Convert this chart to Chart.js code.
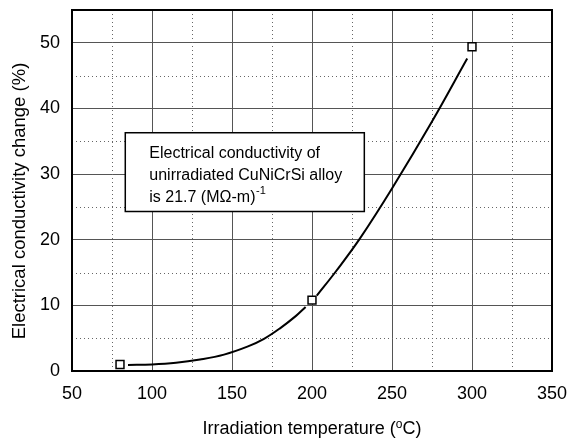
<!DOCTYPE html>
<html>
<head>
<meta charset="utf-8">
<script src="https://cdn.jsdelivr.net/npm/chart.js@4"></script>
<style>
  html, body { margin: 0; padding: 0; background: #fff; }
  #wrap { width: 569px; height: 439px; position: relative; }
</style>
</head>
<body>
<div id="wrap"><canvas id="c" width="569" height="439"></canvas></div>
<script>
// ---- data ----
const measuredTemp = [80, 200, 300];
const measuredChange = [1.0, 10.8, 49.4];

const curveTemp = [85, 100, 115, 130, 145, 160, 170, 180, 190, 196, 199.5, 203, 215, 230, 250, 275, 297];
const curveChange = [0.93, 1.0, 1.25, 1.75, 2.5, 3.75, 4.9, 6.5, 8.4, 9.75, null, 11.5, 15.2, 20.2, 27.8, 38.0, 47.6];

const xMajorTicks = [50, 100, 150, 200, 250, 300, 350];
const xMinorTicks = [75, 125, 175, 225, 275, 325];
const yMajorTicks = [0, 10, 20, 30, 40, 50];
const yMinorTicks = [5, 15, 25, 35, 45];

const xTitle = ['Irradiation temperature (', 'o', 'C)'];
const yTitle = 'Electrical conductivity change (%)';
const noteLines = ['Electrical conductivity of', 'unirradiated CuNiCrSi alloy', 'is 21.7 (M\u03A9-m)'];
const noteSup = '-1';
// annotation box corners in data coordinates
const noteBox = { x1: 83.3, x2: 232.7, y1: 36.3, y2: 24.3 };

const FONT = '"Liberation Sans", Arial, Helvetica, sans-serif';

const decor = {
  id: 'decor',
  beforeDatasetsDraw(chart) {
    const { ctx, chartArea: a, scales: { x, y } } = chart;
    ctx.save();
    ctx.strokeStyle = '#666';
    ctx.lineWidth = 1;
    ctx.setLineDash([1, 3]);
    xMinorTicks.forEach(v => {
      const px = Math.round(x.getPixelForValue(v)) + 0.5;
      ctx.beginPath(); ctx.moveTo(px, a.top); ctx.lineTo(px, a.bottom); ctx.stroke();
    });
    yMinorTicks.forEach(v => {
      const py = Math.round(y.getPixelForValue(v)) + 0.5;
      ctx.beginPath(); ctx.moveTo(a.left, py); ctx.lineTo(a.right, py); ctx.stroke();
    });
    ctx.restore();
  },
  afterDatasetsDraw(chart) {
    const { ctx, chartArea: a, scales: { x, y } } = chart;
    ctx.save();
    // annotation box
    const bx1 = x.getPixelForValue(noteBox.x1), bx2 = x.getPixelForValue(noteBox.x2);
    const by1 = y.getPixelForValue(noteBox.y1), by2 = y.getPixelForValue(noteBox.y2);
    ctx.fillStyle = '#fff';
    ctx.fillRect(bx1, by1, bx2 - bx1, by2 - by1);
    ctx.strokeStyle = '#000';
    ctx.lineWidth = 1.5;
    ctx.strokeRect(bx1, by1, bx2 - bx1, by2 - by1);
    ctx.fillStyle = '#000';
    ctx.font = '16px ' + FONT;
    ctx.textBaseline = 'alphabetic';
    ctx.textAlign = 'left';
    const tx = bx1 + 24;
    const base = by1 + 25;
    noteLines.forEach((t, i) => ctx.fillText(t, tx, base + i * 22));
    const w3 = ctx.measureText(noteLines[2]).width;
    ctx.font = '11px ' + FONT;
    ctx.fillText(noteSup, tx + w3 + 0.5, base + 44 - 8);
    // plot frame
    ctx.strokeStyle = '#000';
    ctx.lineWidth = 2;
    ctx.strokeRect(a.left, a.top, a.right - a.left, a.bottom - a.top);
    ctx.restore();
  },
  afterDraw(chart) {
    const { ctx, chartArea: a } = chart;
    ctx.save();
    ctx.fillStyle = '#000';
    ctx.textBaseline = 'alphabetic';
    // x title with superscript
    ctx.font = '18px ' + FONT;
    const w0 = ctx.measureText(xTitle[0]).width;
    const w2 = ctx.measureText(xTitle[2]).width;
    ctx.font = '12px ' + FONT;
    const w1 = ctx.measureText(xTitle[1]).width;
    const total = w0 + w1 + w2;
    let sx = (a.left + a.right) / 2 - total / 2;
    const by = 434;
    ctx.textAlign = 'left';
    ctx.font = '18px ' + FONT;
    ctx.fillText(xTitle[0], sx, by);
    ctx.font = '12px ' + FONT;
    ctx.fillText(xTitle[1], sx + w0, by - 6);
    ctx.font = '18px ' + FONT;
    ctx.fillText(xTitle[2], sx + w0 + w1, by);
    // y title
    ctx.translate(24.5, 201);
    ctx.rotate(-Math.PI / 2);
    ctx.textAlign = 'center';
    ctx.font = '18.5px ' + FONT;
    ctx.fillText(yTitle, 0, 0);
    ctx.restore();
  }
};

function noPad(s) { s.paddingTop = 0; s.paddingBottom = 0; s.paddingLeft = 0; s.paddingRight = 0; }

new Chart(document.getElementById('c'), {
  type: 'scatter',
  data: {
    datasets: [
      {
        label: 'fit',
        data: curveTemp.map((t, i) => ({ x: t, y: curveChange[i] })),
        showLine: true,
        spanGaps: false,
        borderColor: '#000',
        borderWidth: 2,
        pointRadius: 0,
        tension: 0.4,
        order: 2
      },
      {
        label: 'measured',
        data: measuredTemp.map((t, i) => ({ x: t, y: measuredChange[i] })),
        showLine: false,
        pointStyle: 'rect',
        pointRadius: 5.6,
        pointBorderWidth: 1.5,
        pointBorderColor: '#000',
        pointBackgroundColor: '#fff',
        order: 1
      }
    ]
  },
  options: {
    responsive: false,
    animation: false,
    events: [],
    layout: { padding: { top: 10, right: 17, bottom: 0, left: 0 } },
    plugins: { legend: { display: false }, tooltip: { enabled: false } },
    scales: {
      x: {
        type: 'linear',
        min: 50, max: 350,
        afterBuildTicks: s => { s.ticks = xMajorTicks.map(v => ({ value: v })); },
        afterFit: s => { s.height = 68; noPad(s); },
        grid: { color: '#555', lineWidth: 1, drawTicks: false },
        border: { display: false },
        ticks: { color: '#000', font: { family: FONT, size: 18 }, padding: 12, maxRotation: 0, autoSkip: false }
      },
      y: {
        type: 'linear',
        min: 0, max: 55,
        afterBuildTicks: s => { s.ticks = yMajorTicks.map(v => ({ value: v })); },
        afterFit: s => { s.width = 72; noPad(s); },
        grid: { color: '#555', lineWidth: 1, drawTicks: false },
        border: { display: false },
        ticks: { color: '#000', font: { family: FONT, size: 18 }, padding: 12, autoSkip: false }
      }
    }
  },
  plugins: [decor]
});
</script>
</body>
</html>
